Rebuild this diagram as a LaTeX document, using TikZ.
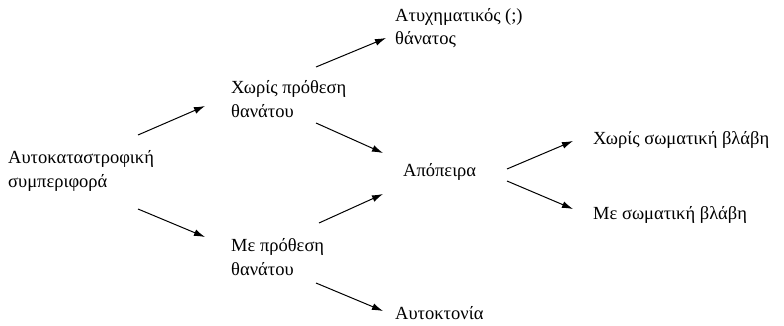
\documentclass[tikz,border=0pt]{standalone}
\usepackage{fontspec}
\setmainfont{Liberation Serif}
\usetikzlibrary{arrows.meta}
\begin{document}
\begin{tikzpicture}[x=1pt,y=-1pt,
  lbl/.style={anchor=west,align=left,inner sep=0pt,font=\fontsize{18.5}{23.5}\selectfont},
  arr/.style={line width=1pt,-{Latex[length=11pt,width=7pt]}}]
\useasboundingbox (0,0) rectangle (784,326);
\node[lbl] (root) at (8,171) {Αυτοκαταστροφική\\συμπεριφορά};
\node[lbl] (no) at (231,99) {Χωρίς πρόθεση\\θανάτου};
\node[lbl] (yes) at (231,257) {Με πρόθεση\\θανάτου};
\node[lbl] (acc) at (395,28) {Ατυχηματικός (;)\\θάνατος};
\node[lbl] (att) at (403,172) {Απόπειρα};
\node[lbl] (sui) at (395,313) {Αυτοκτονία};
\node[lbl] (noinj) at (593,140) {Χωρίς σωματική βλάβη};
\node[lbl] (inj) at (593,215) {Με σωματική βλάβη};
\coordinate (r1) at (138,135); \coordinate (n1) at (205,106);
\coordinate (r2) at (138,209); \coordinate (y1) at (205,237);
\coordinate (n2) at (316,67);  \coordinate (a1) at (386,38);
\coordinate (n3) at (316,123); \coordinate (t1) at (383,153);
\coordinate (y2) at (319,223); \coordinate (t2) at (383,194);
\coordinate (y3) at (316,283); \coordinate (s1) at (383,311);
\coordinate (t3) at (507,169); \coordinate (i1) at (573,141);
\coordinate (t4) at (507,181); \coordinate (i2) at (573,209);
\draw[arr] (r1) -- (n1);
\draw[arr] (r2) -- (y1);
\draw[arr] (n2) -- (a1);
\draw[arr] (n3) -- (t1);
\draw[arr] (y2) -- (t2);
\draw[arr] (y3) -- (s1);
\draw[arr] (t3) -- (i1);
\draw[arr] (t4) -- (i2);
\end{tikzpicture}
\end{document}
